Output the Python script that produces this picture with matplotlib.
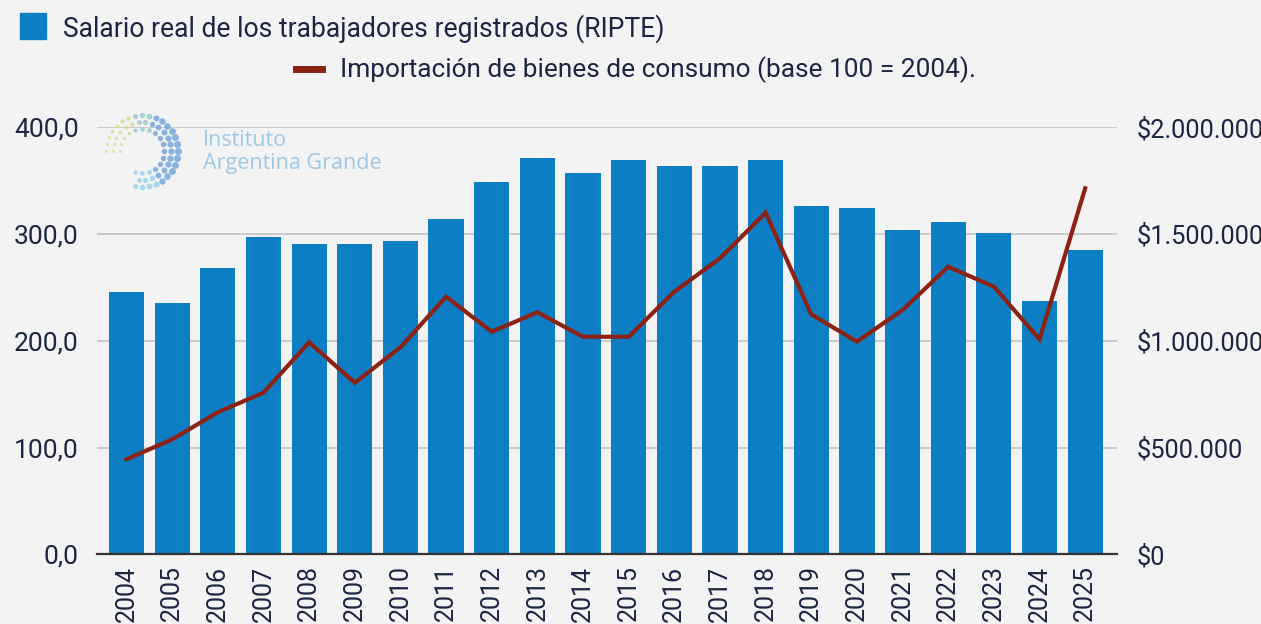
import numpy as np
import matplotlib.pyplot as plt
from matplotlib.patches import Rectangle
from matplotlib.lines import Line2D
from matplotlib.ticker import FuncFormatter

plt.rcParams['font.family'] = ['Roboto', 'DejaVu Sans']

years = [str(y) for y in range(2004, 2026)]
salario = [1227000, 1177000, 1342000, 1486000, 1455000, 1455000, 1466000,
           1570000, 1745000, 1857000, 1786000, 1847000, 1817000, 1817000,
           1847000, 1630000, 1621000, 1518000, 1558000, 1506000, 1185000,
           1424000]
importacion = [89.0, 107.7, 133.0, 151.4, 198.6, 160.7, 193.9, 241.3, 208.5,
               226.7, 203.8, 203.8, 246.0, 277.3, 320.0, 224.8, 199.2, 228.9,
               269.4, 250.7, 201.4, 342.9]

label_bar = 'Salario real de los trabajadores registrados (RIPTE)'
label_line = 'Importación de bienes de consumo (base 100 = 2004).'

BG = '#f3f3f3'
BLUE = '#0e7ec4'
RED = '#8b2213'
TXT = '#1c2541'
GRID = '#c6c6c6'

W, H = 1261, 624
fig = plt.figure(figsize=(W / 100, H / 100), dpi=100, facecolor=BG)

# bars on the right ($) axis, line on the left (index) axis
ax = fig.add_axes([96.7 / W, 69.7 / H, 1020 / W, 427 / H])
ax.set_facecolor(BG)
x = np.arange(len(years))
ax.bar(x, salario, width=0.77, color=BLUE, zorder=2)
ax.set_ylim(0, 2000000)
ax.set_xlim(-0.653, len(years) - 1 + 0.69)
ax.grid(axis='y', color=GRID, lw=1.3, zorder=0)
ax.set_axisbelow(True)
ax.set_xticks(x)
ax.set_xticklabels(years, rotation=90, fontsize=18, color=TXT)
ax.tick_params(axis='x', length=0, pad=8)
for s in ['top', 'left', 'right']:
    ax.spines[s].set_visible(False)
ax.spines['bottom'].set_color('#333333')
ax.spines['bottom'].set_linewidth(1.6)
ax.spines['bottom'].set_zorder(3)

ax2 = ax.twinx()
ax2.plot(x, importacion, color=RED, lw=3, solid_joinstyle='miter', zorder=4)
ax2.set_ylim(0, 400)
ax2.yaxis.tick_left()
ax2.set_yticks(np.arange(0, 401, 100))
ax2.yaxis.set_major_formatter(FuncFormatter(
    lambda v, p: f'{v:.1f}'.replace('.', ',')))
ax2.tick_params(axis='y', length=0, pad=13, labelsize=19, labelcolor=TXT)
for s in ax2.spines.values():
    s.set_visible(False)

# twinx resets the host axis ticks to the left, so set right side afterwards
ax.yaxis.tick_right()
ax.set_yticks(np.arange(0, 2000001, 500000))
ax.yaxis.set_major_formatter(FuncFormatter(
    lambda v, p: '$' + f'{v:,.0f}'.replace(',', '.')))
ax.tick_params(axis='y', length=0, pad=14, labelsize=18.3, labelcolor=TXT,
               left=False, labelleft=False, right=True, labelright=True)

# legend drawn by hand
fig.add_artist(Rectangle((20 / W, 1 - 39 / H), 26 / W, 26 / H,
                         transform=fig.transFigure, color=BLUE))
fig.text(63 / W, 1 - 29 / H, label_bar, fontsize=19.1, color=TXT, va='center')
fig.add_artist(Line2D([296 / W, 322 / W], [1 - 69 / H, 1 - 69 / H],
                      transform=fig.transFigure, color=RED, lw=5))
fig.text(340 / W, 1 - 70 / H, label_line, fontsize=18.9, color=TXT, va='center')

# watermark logo
cx, cy = 142, 151
for r, n, base in [(22, 20, 14), (29, 26, 20), (36, 32, 26)]:
    ang = np.linspace(0, 2 * np.pi, n, endpoint=False)
    for a in ang:
        deg = np.degrees(a) % 360
        if 190 < deg < 250:
            continue
        if deg < 70 or deg > 300:
            col = (0.40, 0.62, 0.85)
        elif deg < 110:
            col = (0.55, 0.78, 0.80)
        elif deg < 190:
            col = (0.80, 0.88, 0.55)
        else:
            col = (0.55, 0.80, 0.92)
        size = base * (0.5 + 0.5 * np.cos(a)) + 6
        fig.add_artist(Line2D([(cx + r * np.cos(a)) / W], [1 - (cy - r * np.sin(a)) / H],
                              transform=fig.transFigure, marker='o', ls='',
                              markersize=np.sqrt(size) * 0.9, color=col,
                              markeredgewidth=0, alpha=0.75))
fig.text(203 / W, 1 - 140 / H, 'Instituto', fontsize=15.5, color='#9cc8e6',
         family=['Open Sans', 'DejaVu Sans'], va='center')
fig.text(203 / W, 1 - 163 / H, 'Argentina Grande', fontsize=15.5, color='#9cc8e6',
         family=['Open Sans', 'DejaVu Sans'], va='center')

fig.savefig('out.png', dpi=100, facecolor=BG)
